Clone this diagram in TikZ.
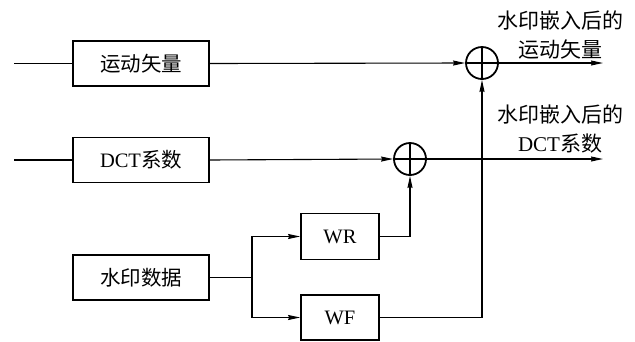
\documentclass[tikz,border=0pt]{standalone}
\usepackage{fontspec}
\setmainfont{Liberation Serif}
\newfontfamily\cjk{Noto Sans CJK SC}
\usetikzlibrary{arrows.meta}
\begin{document}
\begin{tikzpicture}[x=1pt,y=-1pt,
  blk/.style={draw,line width=1.8pt,inner sep=0pt,font=\fontsize{20.5}{24}\selectfont},
  sumc/.style={draw,circle,line width=1.8pt,minimum size=32pt,inner sep=0pt,
    path picture={\draw[line width=1.2pt] (path picture bounding box.north)--(path picture bounding box.south)
      (path picture bounding box.west)--(path picture bounding box.east);}},
  conn/.style={line width=1.1pt},
  arr/.style={conn,-{Stealth[length=12pt,width=5pt,inset=1pt]}},
  lab/.style={align=center,font=\fontsize{21}{28.5}\selectfont}]
\useasboundingbox[fill=white] (0,0) rectangle (635,341);
\node[blk,minimum width=136pt,minimum height=45pt] (mv) at (141,63.5) {\cjk 运动矢量};
\node[blk,minimum width=136pt,minimum height=45pt] (dct) at (141,160) {DCT\cjk 系数};
\node[blk,minimum width=136pt,minimum height=45pt] (wm) at (141,277.5) {\cjk 水印数据};
\node[blk,minimum width=78pt,minimum height=46pt] (wr) at (340,236.5) {WR};
\node[blk,minimum width=78pt,minimum height=45pt] (wf) at (340,317.5) {WF};
\node[sumc] (s1) at (482,63) {};
\node[sumc] (s2) at (410,159) {};
\coordinate (in1) at (14,63.5);
\coordinate (in2) at (14,160);
\coordinate (out1) at (603,63);
\coordinate (out2) at (603,159);
\coordinate (br) at (252,277.5);
\node[lab] (l1) at (560,35) {{\cjk 水印嵌入后的}\\{\cjk 运动矢量}};
\node[lab] (l2) at (560,129) {{\cjk 水印嵌入后的}\\DCT{\cjk 系数}};
\draw[conn] (in1) -- (mv.west);
\draw[conn] (in2) -- (dct.west);
\draw[arr] (mv.east) -- (s1.west);
\draw[arr] (dct.east -| mv.east) -- (s2.west);
\draw[arr] (s1.east) -- (out1);
\draw[arr] (s2.east) -- (out2);
\draw[conn] (wm.east) -- (br);
\draw[arr] (br) |- (wr.west);
\draw[arr] (br) |- (wf.west);
\draw[arr] (wr.east) -| (s2.south);
\draw[arr] (wf.east) -| (s1.south);
\end{tikzpicture}
\end{document}
